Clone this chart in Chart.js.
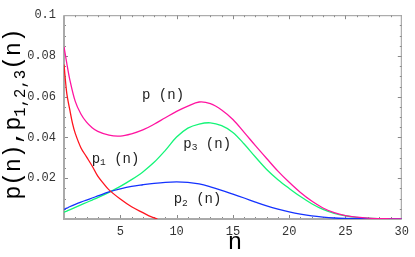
<!DOCTYPE html>
<html>
<head>
<meta charset="utf-8">
<script src="https://cdn.jsdelivr.net/npm/chart.js@4.4.0/dist/chart.umd.min.js"></script>
<style>
  html, body { margin: 0; padding: 0; background: #fff; }
  #wrap { width: 415px; height: 257px; }
</style>
</head>
<body>
<div id="wrap"><canvas id="chart"></canvas></div>
<script>
// n values shared by p, p2, p3
const nValues = [0, 0.25, 0.5, 1, 1.5, 2, 2.5, 3, 4, 5, 6, 7, 8, 9, 10, 11, 12, 13, 14, 15,
  16, 17, 18, 19, 20, 21, 22, 23, 24, 25, 26, 27, 28, 29, 30];
const pTotal = [0.0845, 0.0763, 0.0688, 0.0577, 0.0515, 0.0475, 0.0448, 0.043, 0.0411, 0.0407,
  0.0418, 0.0437, 0.0465, 0.0497, 0.0528, 0.0554, 0.0574, 0.0566, 0.0535, 0.0488,
  0.0425, 0.036, 0.0297, 0.0235, 0.018, 0.013, 0.0088, 0.0054, 0.0031, 0.0017,
  0.0009, 0.0004, 0.0002, 0.0001, 0.0];
const p2 = [0.0047, 0.0053, 0.006, 0.0072, 0.0083, 0.0093, 0.0103, 0.0113, 0.0133, 0.0148,
  0.016, 0.0168, 0.0175, 0.018, 0.0182, 0.018, 0.0172, 0.0158, 0.0141, 0.0122,
  0.0103, 0.0083, 0.0064, 0.0048, 0.0035, 0.0024, 0.0015, 0.0009, 0.0005, 0.0003,
  0.0002, 0.0001, 0.0, 0.0, 0.0];
const p3 = [0.0033, 0.0039, 0.0045, 0.0057, 0.0069, 0.0081, 0.0093, 0.0105, 0.0131, 0.016,
  0.0193, 0.0231, 0.0278, 0.0337, 0.0402, 0.0446, 0.0466, 0.0472, 0.0458, 0.0425,
  0.0368, 0.0304, 0.0243, 0.0193, 0.015, 0.011, 0.0075, 0.0047, 0.0028, 0.0016,
  0.0008, 0.0004, 0.0002, 0.0001, 0.0];
// p1 has its own n values, it reaches zero near n = 8.3
const p1N = [0, 0.25, 0.5, 0.75, 1, 1.5, 2, 2.5, 3, 3.5, 4, 5, 6, 7, 7.5, 8, 8.3];
const p1 = [0.0758, 0.0615, 0.054, 0.047, 0.042, 0.035, 0.0305, 0.026, 0.021, 0.0175,
  0.0143, 0.0098, 0.006, 0.0031, 0.0017, 0.0006, 0.0];

const xMajor = [5, 10, 15, 20, 25, 30];
const yMajor = [0.02, 0.04, 0.06, 0.08, 0.1];

function pts(xs, ys) {
  return xs.map((x, i) => ({ x: x, y: ys[i] }));
}

const mono = "'Liberation Mono', 'DejaVu Sans Mono', monospace";

function line(data, color) {
  return {
    data: data,
    borderColor: color,
    borderWidth: 1.3,
    pointRadius: 0,
    fill: false,
    tension: 0.35
  };
}

// draw "p", subscript, " (n)" pieces left to right
function drawPieces(ctx, pieces, x, y, size) {
  let cx = x;
  pieces.forEach(pc => {
    const s = pc.sub ? size * 0.68 : size;
    ctx.font = s + "px " + mono;
    ctx.fillText(pc.t, cx, y + (pc.sub ? size * 0.28 : 0));
    cx += ctx.measureText(pc.t).width;
  });
  return cx - x;
}

function widthPieces(ctx, pieces, size) {
  let w = 0;
  pieces.forEach(pc => {
    const s = pc.sub ? size * 0.68 : size;
    ctx.font = s + "px " + mono;
    w += ctx.measureText(pc.t).width;
  });
  return w;
}

const framePlugin = {
  id: 'frame',
  beforeDatasetsDraw(chart) {
    const ctx = chart.ctx;
    const a = chart.chartArea;
    const xs = chart.scales.x, ys = chart.scales.y;
    ctx.save();
    ctx.strokeStyle = '#888';
    ctx.lineWidth = 1;
    // minor and major ticks, pointing inwards on all sides
    for (let n = 1; n < 30; n++) {
      const px = Math.round(xs.getPixelForValue(n)) + 0.5;
      const len = n % 5 === 0 ? 4 : 2;
      ctx.beginPath();
      ctx.moveTo(px, a.bottom); ctx.lineTo(px, a.bottom - len);
      ctx.moveTo(px, a.top); ctx.lineTo(px, a.top + len);
      ctx.stroke();
    }
    for (let k = 1; k < 20; k++) {
      const py = Math.round(ys.getPixelForValue(k * 0.005)) + 0.5;
      const len = k % 4 === 0 ? 4 : 2;
      ctx.beginPath();
      ctx.moveTo(a.left, py); ctx.lineTo(a.left + len, py);
      ctx.moveTo(a.right, py); ctx.lineTo(a.right - len, py);
      ctx.stroke();
    }
    ctx.strokeStyle = '#999';
    ctx.beginPath();
    ctx.moveTo(a.left, a.top + 0.5); ctx.lineTo(a.right, a.top + 0.5);
    ctx.moveTo(a.right - 0.5, a.top); ctx.lineTo(a.right - 0.5, a.bottom);
    ctx.stroke();
    ctx.strokeStyle = '#aaa';
    ctx.lineWidth = 2;
    ctx.beginPath();
    ctx.moveTo(a.left, a.top); ctx.lineTo(a.left, a.bottom);
    ctx.lineTo(a.right, a.bottom);
    ctx.stroke();
    ctx.restore();
  },
  afterDraw(chart) {
    const ctx = chart.ctx;
    const xs = chart.scales.x, ys = chart.scales.y;
    ctx.save();
    ctx.fillStyle = '#222';
    ctx.textBaseline = 'middle';
    ctx.textAlign = 'left';
    const labels = [
      { n: 6.93, v: 0.0605, pieces: [{ t: 'p (n)' }] },
      { n: 2.46, v: 0.0295, pieces: [{ t: 'p' }, { t: '1', sub: true }, { t: ' (n)' }] },
      { n: 10.6, v: 0.0368, pieces: [{ t: 'p' }, { t: '3', sub: true }, { t: ' (n)' }] },
      { n: 9.74, v: 0.0097, pieces: [{ t: 'p' }, { t: '2', sub: true }, { t: ' (n)' }] }
    ];
    labels.forEach(l => {
      drawPieces(ctx, l.pieces, xs.getPixelForValue(l.n), ys.getPixelForValue(l.v), 14);
    });

    // x axis title
    ctx.font = "24px " + mono;
    ctx.textAlign = 'center';
    ctx.fillStyle = '#000';
    ctx.fillText('n', 235, 243);

    // y axis title, rotated
    ctx.textAlign = 'left';
    const ySize = 23;
    const title = [{ t: 'p(n),p' }, { t: '1,2,3', sub: true }, { t: '(n)' }];
    const w = widthPieces(ctx, title, ySize);
    ctx.translate(14, 114);
    ctx.rotate(-Math.PI / 2);
    drawPieces(ctx, title, -w / 2, 0, ySize);
    ctx.restore();
  }
};

new Chart(document.getElementById('chart'), {
  type: 'line',
  data: {
    datasets: [
      line(pts(nValues, pTotal), 'rgb(255, 20, 160)'),
      line(pts(p1N, p1), 'rgb(255, 20, 30)'),
      line(pts(nValues, p2), 'rgb(20, 50, 255)'),
      line(pts(nValues, p3), 'rgb(20, 245, 120)')
    ]
  },
  options: {
    responsive: true,
    maintainAspectRatio: false,
    animation: false,
    devicePixelRatio: 1,
    layout: { padding: { left: 0, right: 9, top: 7, bottom: 0 } },
    plugins: { legend: { display: false }, tooltip: { enabled: false } },
    scales: {
      x: {
        type: 'linear',
        min: 0,
        max: 30,
        afterFit: s => { s.height = 38; },
        afterBuildTicks: s => { s.ticks = xMajor.map(v => ({ value: v })); },
        grid: { display: false, drawTicks: false },
        border: { display: false },
        ticks: {
          padding: 6,
          color: '#333',
          font: { family: mono, size: 12 },
          maxRotation: 0
        }
      },
      y: {
        min: 0,
        max: 0.1,
        afterFit: s => { s.width = 64; },
        afterBuildTicks: s => { s.ticks = yMajor.map(v => ({ value: v })); },
        grid: { display: false, drawTicks: false },
        border: { display: false },
        ticks: {
          padding: 8,
          color: '#333',
          font: { family: mono, size: 12 },
          callback: v => String(+v.toFixed(2))
        }
      }
    }
  },
  plugins: [framePlugin]
});
</script>
</body>
</html>
